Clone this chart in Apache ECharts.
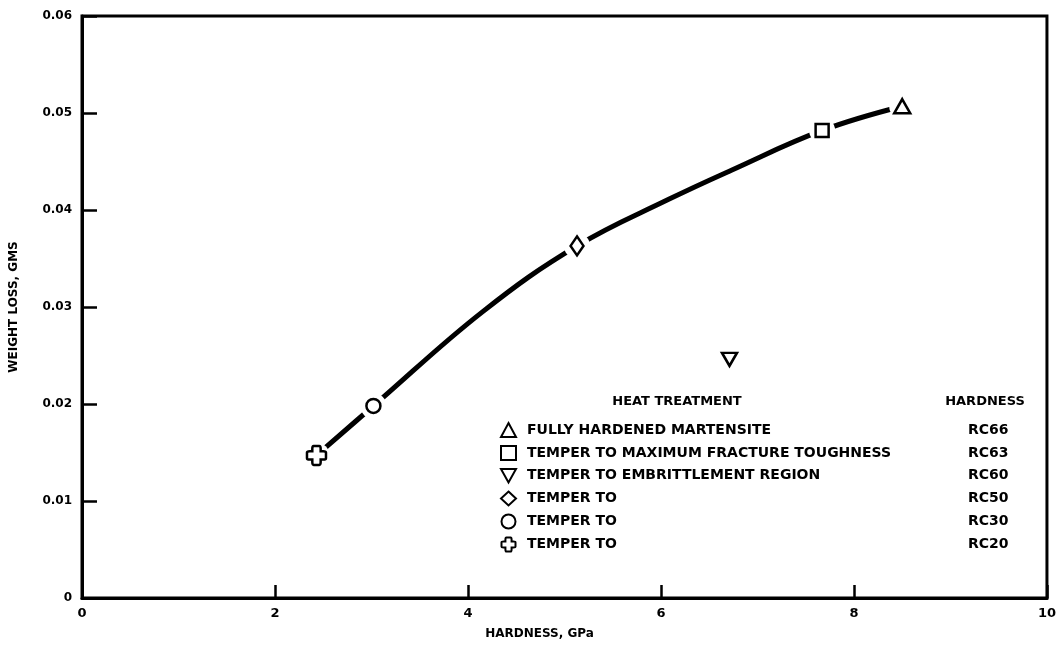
<!DOCTYPE html>
<html>
<head>
<meta charset="utf-8">
<script src="https://cdn.jsdelivr.net/npm/echarts@6/dist/echarts.min.js"></script>
<style>
  html, body { margin: 0; padding: 0; background: #fff; }
  #chart { width: 1059px; height: 645px; }
</style>
</head>
<body>
<div id="chart"></div>
<script>
// 数据：每种热处理一个点 [硬度 GPa, 失重 g]
const fullyHardened = [[8.5, 0.0507]]
const maxToughness = [[7.67, 0.0482]]
const embrittlement = [[6.71, 0.0246]]
const temperRC50 = [[5.13, 0.0363]]
const temperRC30 = [[3.02, 0.0198]]
const temperRC20 = [[2.43, 0.0147]]

// 拟合曲线（从图上读的点）
const curvePoints = [
  [2.43, 0.0147], [3.02, 0.0198], [4.15, 0.0295], [5.13, 0.0363],
  [6.08, 0.0411], [6.73, 0.0441], [7.67, 0.0482], [8.5, 0.0507]
]

// 图例文字 & 硬度
const treatmentNames = ['FULLY HARDENED MARTENSITE', 'TEMPER TO MAXIMUM FRACTURE TOUGHNESS',
  'TEMPER TO EMBRITTLEMENT REGION', 'TEMPER TO', 'TEMPER TO', 'TEMPER TO']
const hardnessLabels = ['RC66', 'RC63', 'RC60', 'RC50', 'RC30', 'RC20']

const FONT = 'DejaVu Sans'
const crossPath = 'path://M3.5,0 H6.5 Q7.2,0 7.2,1.5 V2.8 H8.5 Q10,2.8 10,3.5 V6.5 Q10,7.2 8.5,7.2 H7.2 V8.5 Q7.2,10 6.5,10 H3.5 Q2.8,10 2.8,8.5 V7.2 H1.5 Q0,7.2 0,6.5 V3.5 Q0,2.8 1.5,2.8 H2.8 V1.5 Q2.8,0 3.5,0 Z'
const downTriPath = 'path://M0,0 L10,0 L5,9 Z'

const markerSets = [
  { data: fullyHardened, symbol: 'triangle', size: [16, 14] },
  { data: maxToughness, symbol: 'rect', size: 13 },
  { data: embrittlement, symbol: downTriPath, size: [15, 13] },
  { data: temperRC50, symbol: 'diamond', size: [13, 19] },
  { data: temperRC30, symbol: 'circle', size: 14 },
  { data: temperRC20, symbol: crossPath, size: 19 }
]

// 白色光圈，让曲线在标记处断开
const haloData = [].concat(fullyHardened, maxToughness, temperRC50, temperRC30, temperRC20)

const markerSeries = markerSets.map((m, i) => ({
  name: hardnessLabels[i],
  type: 'scatter',
  data: m.data,
  symbol: m.symbol,
  symbolSize: m.size,
  z: 5,
  itemStyle: { color: '#fff', borderColor: '#000', borderWidth: 2.5, opacity: 1 }
}))

const boldText = (size) => ({ fontFamily: FONT, fontWeight: 'bold', fontSize: size, color: '#000' })

let chart = echarts.init(document.getElementById('chart'))
chart.setOption({
  animation: false,
  backgroundColor: '#fff',
  grid: {
    left: 82, right: 8, top: 16, bottom: 47,
    show: true, borderColor: '#000', borderWidth: 3
  },
  xAxis: {
    type: 'value', min: 0, max: 10, interval: 2,
    name: 'HARDNESS, GPa', nameLocation: 'middle', nameGap: 30,
    nameTextStyle: Object.assign(boldText(12), { padding: [0, 50, 0, 0] }),
    axisLine: { lineStyle: { color: '#000', width: 3 } },
    axisTick: { inside: true, length: 13, lineStyle: { color: '#000', width: 2.5 } },
    splitLine: { show: false },
    axisLabel: Object.assign(boldText(13), { margin: 9 })
  },
  yAxis: {
    type: 'value', min: 0, max: 0.06, interval: 0.01,
    name: 'WEIGHT LOSS, GMS', nameLocation: 'middle', nameGap: 62, nameRotate: 90,
    nameTextStyle: boldText(12),
    axisLine: { lineStyle: { color: '#000', width: 3 } },
    axisTick: { inside: true, length: 15, lineStyle: { color: '#000', width: 2.5 } },
    splitLine: { show: false },
    axisLabel: Object.assign(boldText(12), {
      margin: 10,
      formatter: v => v === 0 ? '0' : v.toFixed(2)
    })
  },
  legend: {
    data: hardnessLabels,
    orient: 'vertical',
    left: 500, top: 422, padding: 0,
    itemWidth: 15, itemHeight: 14, itemGap: 7,
    selectedMode: false,
    textStyle: Object.assign(boldText(14), {
      rich: {
        t: Object.assign(boldText(14), { width: 441, padding: [0, 0, 0, 6] }),
        h: Object.assign(boldText(14), { width: 40 })
      }
    }),
    formatter(name) {
      const i = hardnessLabels.indexOf(name)
      return `{t|${treatmentNames[i]}}{h|${name}}`
    }
  },
  graphic: [
    { type: 'text', x: 677, y: 402,
      style: { text: 'HEAT TREATMENT', font: `bold 13px "${FONT}"`, fill: '#000', align: 'center', verticalAlign: 'middle' } },
    { type: 'text', x: 985, y: 402,
      style: { text: 'HARDNESS', font: `bold 13px "${FONT}"`, fill: '#000', align: 'center', verticalAlign: 'middle' } }
  ],
  series: [
    {
      name: 'curve',
      type: 'line',
      data: curvePoints,
      smooth: 0.4,
      showSymbol: false,
      z: 2,
      lineStyle: { color: '#000', width: 5 }
    },
    {
      name: 'halo',
      type: 'scatter',
      data: haloData,
      symbol: 'circle',
      symbolSize: 26,
      z: 3,
      itemStyle: { color: '#fff', opacity: 1 }
    }
  ].concat(markerSeries)
})
</script>
</body>
</html>
